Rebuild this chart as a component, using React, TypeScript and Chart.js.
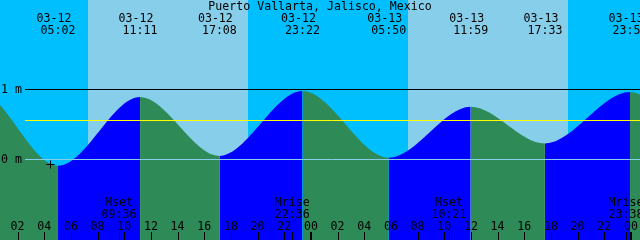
import React, { useEffect, useRef } from "react";
import { Chart, registerables } from "chart.js";

Chart.register(...registerables);

// ---- data ----
const TITLE = "Puerto Vallarta, Jalisco, Mexico";

// tide extremes, hours since 03-12 00:00
const extremeHours = [-7.2, -1.0, 5.033, 11.183, 17.133, 23.367, 29.833, 35.983, 41.55, 47.933, 54.2, 60.4];
const extremeHeights = [0.02, 0.98, -0.1, 0.89, 0.04, 0.975, 0.015, 0.75, 0.22, 0.96, -0.05, 0.9];
const extremeDates = ["03-11", "03-11", "03-12", "03-12", "03-12", "03-12", "03-13", "03-13", "03-13", "03-13", "03-14", "03-14"];
const extremeTimes = ["16:48", "23:00", "05:02", "11:11", "17:08", "23:22", "05:50", "11:59", "17:33", "23:56", "06:12", "12:24"];

const sunriseHours = [7.25, 31.25];
const sunsetHours = [19.25, 43.25];

const moonHours = [9.6, 22.6, 34.35, 47.633];
const moonKinds = ["Mset", "Mrise", "Mset", "Mrise"];
const moonTimes = ["09:36", "22:36", "10:21", "23:38"];

const hourTicks = [2, 4, 6, 8, 10, 12, 14, 16, 18, 20, 22, 24, 26, 28, 30, 32, 34, 36, 38, 40, 42, 44, 46, 48];
const hourLabels = ["02", "04", "06", "08", "10", "12", "14", "16", "18", "20", "22", "00", "02", "04", "06", "08", "10", "12", "14", "16", "18", "20", "22", "00"];
const midnightHours = [24, 48];

const levelValues = [1, 0];
const levelLabels = ["1 m", "0 m"];
const meanLevel = 0.553;

const nowHour = 4.42;
const nowHeight = -0.08;

const X_MIN = 0.68;
const X_MAX = 48.68;
const Y_MIN = -1.171;
const Y_MAX = 2.287;

// ---- styles ----
const NIGHT = "#00BFFF";
const DAY = "#87CEEB";
const FALL = "#2E8B57";
const RISE = "#0000FF";
const FONT = "11.6px 'DejaVu Sans Mono', monospace";

const bgPlugin = {
  id: "bgPlugin",
  beforeDraw(chart: any) {
    const { ctx, chartArea: a, scales } = chart;
    const x = scales.x;
    ctx.save();
    ctx.fillStyle = NIGHT;
    ctx.fillRect(a.left, a.top, a.right - a.left, a.bottom - a.top);
    ctx.fillStyle = DAY;
    for (let i = 0; i < sunriseHours.length; i++) {
      const x0 = Math.round(x.getPixelForValue(sunriseHours[i]));
      const x1 = Math.round(x.getPixelForValue(sunsetHours[i]));
      ctx.fillRect(x0, a.top, x1 - x0, a.bottom - a.top);
    }
    ctx.restore();
  },
};

const overlayPlugin = {
  id: "overlayPlugin",
  afterDatasetsDraw(chart: any) {
    const { ctx, chartArea: a, scales } = chart;
    const x = scales.x;
    const y = scales.y;
    ctx.save();
    ctx.lineWidth = 1;

    // horizontal reference lines
    const hline = (v: number, color: string) => {
      const py = Math.round(y.getPixelForValue(v)) + 0.5;
      ctx.strokeStyle = color;
      ctx.beginPath();
      ctx.moveTo(25, py);
      ctx.lineTo(a.right, py);
      ctx.stroke();
    };
    hline(1, "#000000");
    hline(meanLevel, "#FFFF00");
    hline(0, DAY);

    ctx.font = FONT;
    ctx.fillStyle = "#000000";

    // level labels
    ctx.textAlign = "left";
    ctx.textBaseline = "middle";
    levelValues.forEach((v, i) => {
      ctx.fillText(levelLabels[i], 1, Math.round(y.getPixelForValue(v)) + 0.5);
    });

    // title
    ctx.textBaseline = "alphabetic";
    ctx.textAlign = "center";
    ctx.fillText(TITLE, (a.left + a.right) / 2, 10);

    // extreme labels
    extremeHours.forEach((h, i) => {
      const px = x.getPixelForValue(h);
      if (px < -40 || px > a.right + 40) return;
      ctx.fillText(extremeDates[i], px - 4, 21.5);
      ctx.fillText(extremeTimes[i], px, 34);
    });

    // moon labels & ticks
    moonHours.forEach((h, i) => {
      const px = x.getPixelForValue(h);
      ctx.fillText(moonKinds[i], px, 206);
      ctx.fillText(moonTimes[i], px, 217.5);
      ctx.fillRect(Math.round(px), 232, 1, 8);
    });

    // hour labels & ticks
    hourTicks.forEach((h, i) => {
      const px = x.getPixelForValue(h);
      ctx.fillText(hourLabels[i], px, 229.5);
      const thick = midnightHours.includes(h);
      ctx.fillRect(Math.round(px) - (thick ? 1 : 0), 232, thick ? 2 : 1, 8);
    });

    // current time marker
    const nx = Math.round(x.getPixelForValue(nowHour)) + 0.5;
    const ny = Math.round(y.getPixelForValue(nowHeight)) + 0.5;
    ctx.strokeStyle = "#000000";
    ctx.beginPath();
    ctx.moveTo(nx - 4, ny);
    ctx.lineTo(nx + 4, ny);
    ctx.moveTo(nx, ny - 4);
    ctx.lineTo(nx, ny + 4);
    ctx.stroke();

    ctx.restore();
  },
};

export default function App() {
  const canvasRef = useRef<HTMLCanvasElement | null>(null);

  useEffect(() => {
    const canvas = canvasRef.current;
    if (!canvas) return;
    const chart = new Chart(canvas, {
      type: "line",
      data: {
        datasets: [
          {
            data: extremeHours.map((h, i) => ({ x: h, y: extremeHeights[i] })),
            borderWidth: 0,
            borderColor: "rgba(0,0,0,0)",
            backgroundColor: FALL,
            pointRadius: 0,
            fill: "start",
            cubicInterpolationMode: "monotone",
            segment: {
              backgroundColor: (c: any) => (c.p1.parsed.y > c.p0.parsed.y ? RISE : FALL),
            },
          } as any,
        ],
      },
      options: {
        responsive: false,
        animation: false,
        devicePixelRatio: 1,
        layout: { padding: 0 },
        events: [],
        plugins: {
          legend: { display: false },
          tooltip: { enabled: false },
          title: { display: false },
        },
        scales: {
          x: { type: "linear", min: X_MIN, max: X_MAX, display: false },
          y: { type: "linear", min: Y_MIN, max: Y_MAX, display: false },
        },
      },
      plugins: [bgPlugin, overlayPlugin],
    });
    return () => chart.destroy();
  }, []);

  return (
    <div style={{ position: "fixed", left: 0, top: 0, width: 640, height: 240 }}>
      <canvas ref={canvasRef} width={640} height={240} style={{ display: "block", width: 640, height: 240 }} />
    </div>
  );
}
